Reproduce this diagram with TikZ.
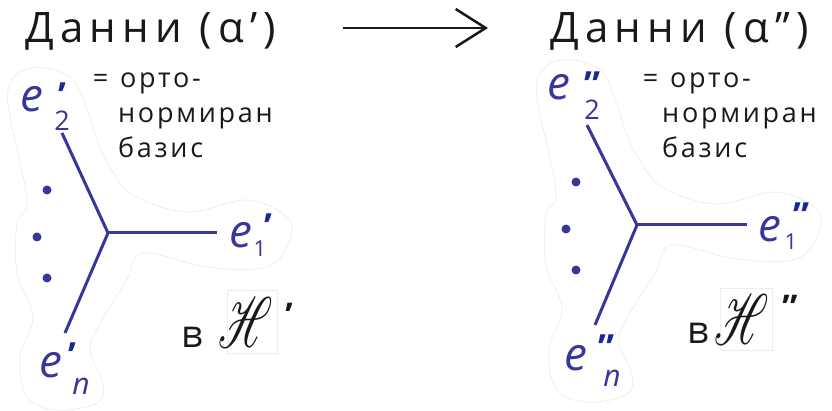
\documentclass[tikz,border=0pt]{standalone}
\usepackage{fontspec}
\setmainfont{Open Sans}
\usepackage{mathrsfs}
\usetikzlibrary{arrows.meta}
\definecolor{vec}{RGB}{55,55,155}
\definecolor{pri}{RGB}{25,40,155}
\definecolor{ink}{RGB}{25,25,25}
\definecolor{blobc}{RGB}{236,236,236}
\newcommand{\hilbH}{\scalebox{0.6}[1]{\resizebox{!}{50pt}{$\mathscr{H}$}}}
\begin{document}
\begin{tikzpicture}[x=1pt,y=-1pt,
  title/.style={font=\fontsize{42}{42}\selectfont\addfontfeatures{LetterSpace=15}, text=ink, inner sep=0, anchor=base west},
  note/.style={font=\fontsize{27}{27}\selectfont\addfontfeatures{LetterSpace=10}, text=ink, inner sep=0, anchor=base west},
  elab/.style={font=\fontsize{46}{46}\selectfont\itshape, text=vec, inner sep=0, anchor=base},
  esub/.style={font=\fontsize{27}{27}\selectfont, text=vec, inner sep=0, anchor=north},
  nsub/.style={font=\fontsize{30}{30}\selectfont\itshape, text=vec, inner sep=0, anchor=base},
  epri/.style={font=\fontsize{36}{36}\selectfont\bfseries, text=pri, inner sep=0, anchor=north},
  hpri/.style={font=\fontsize{34}{34}\selectfont\bfseries, text=ink, inner sep=0, anchor=north},
  vlet/.style={font=\fontsize{38}{38}\selectfont, text=ink, inner sep=0, anchor=base},
  hilb/.style={text=ink, inner sep=0, anchor=center},
  vecline/.style={draw=vec, line width=3pt},
  vdot/.style={circle, fill=vec, inner sep=0, minimum size=9pt},
  blobline/.style={draw=blobc, line width=0.7pt},
  hbox/.style={draw=blobc, line width=0.7pt}
]
\useasboundingbox (0,0) rectangle (832,411);

% ---------- left panel ----------
\draw[blobline] plot[smooth cycle, tension=0.6] coordinates {
 (20,72) (45,68) (73,80) (87,110) (97,140) (110,167) (133,195) (187,212) (247,200) (287,217) (290,240) (267,267) (207,267) (143,253) (127,280) (100,323) (90,350) (103,383) (97,403) (57,410) (27,397) (20,357) (33,317) (17,273) (17,223) (27,200) (10,117) (8,90)};

\node[title] (tL) at (25,43) {Данни (α’)};
\node[note] (nL1) at (120,88) {\llap{=\hspace{12pt}}орто-};
\node[note] (nL2) at (118,123) {нормиран};
\node[note] (nL3) at (118,158) {базис};

\coordinate (cL) at (108,233);
\coordinate (aL2) at (62,133);
\coordinate (aL1) at (217,233);
\coordinate (aLn) at (65,333);
\draw[vecline] (cL) -- (aL2);
\draw[vecline] (cL) -- (aL1);
\draw[vecline] (cL) -- (aLn);
\node[vdot] (dL1) at (47,190) {};
\node[vdot] (dL2) at (37,237) {};
\node[vdot] (dL3) at (47,278) {};

\node[elab] (eL2) at (32,112) {e};
\node[epri] (pL2) at (62,83) {’};
\node[esub] (sL2) at (62,111) {2};

\node[elab] (eL1) at (241,248) {e};
\node[epri] (pL1) at (268,214) {’};
\node[esub, font=\fontsize{22}{22}\selectfont] (sL1) at (260,241) {1};

\node[elab] (eLn) at (51,377) {e};
\node[epri] (pLn) at (72,343) {’};
\node[nsub] (sLn) at (81,394) {n};

\node[vlet] (vL) at (192,347) {в};
\draw[hbox] (227,290) rectangle (277,353);
\node[hilb] (hL) at (246,322) {\hilbH};
\node[hpri] (hpL) at (289,303) {’};

% ---------- arrow ----------
\coordinate (arS) at (343,28);
\coordinate (arE) at (488,28);
\draw[ink, line width=2.5pt, -{Straight Barb[length=30pt,width=38pt]}] (arS) -- (arE);

% ---------- right panel ----------
\draw[blobline, shift={(529,-8)}] plot[smooth cycle, tension=0.6] coordinates {
 (20,72) (45,68) (73,80) (87,110) (97,140) (110,167) (133,195) (187,212) (247,200) (287,217) (290,240) (267,267) (207,267) (143,253) (127,280) (100,323) (90,350) (103,383) (97,403) (57,410) (27,397) (20,357) (33,317) (17,273) (17,223) (27,200) (10,117) (8,90)};

\node[title] (tR) at (550,43) {Данни (α”)};
\node[note] (nR1) at (670,88) {\llap{=\hspace{12pt}}орто-};
\node[note] (nR2) at (662,123) {нормиран};
\node[note] (nR3) at (662,158) {базис};

\coordinate (cR) at (637,225);
\coordinate (aR2) at (587,125);
\coordinate (aR1) at (747,225);
\coordinate (aRn) at (595,325);
\draw[vecline] (cR) -- (aR2);
\draw[vecline] (cR) -- (aR1);
\draw[vecline] (cR) -- (aRn);
\node[vdot] (dR1) at (576,182) {};
\node[vdot] (dR2) at (566,229) {};
\node[vdot] (dR3) at (576,270) {};

\node[elab] (eR2) at (559,100) {e};
\node[epri] (pR2) at (592,72) {”};
\node[esub] (sR2) at (592,100) {2};

\node[elab] (eR1) at (770,242) {e};
\node[epri] (pR1) at (801,203) {”};
\node[esub, font=\fontsize{22}{22}\selectfont] (sR1) at (791,234) {1};

\node[elab] (eRn) at (576,370) {e};
\node[epri] (pRn) at (606,335) {”};
\node[nsub] (sRn) at (612,386) {n};

\node[vlet] (vR) at (698,343) {в};
\draw[hbox] (720,288) rectangle (772,350);
\node[hilb] (hR) at (742,319) {\hilbH};
\node[hpri] (hpR) at (790,295) {”};
\end{tikzpicture}
\end{document}
